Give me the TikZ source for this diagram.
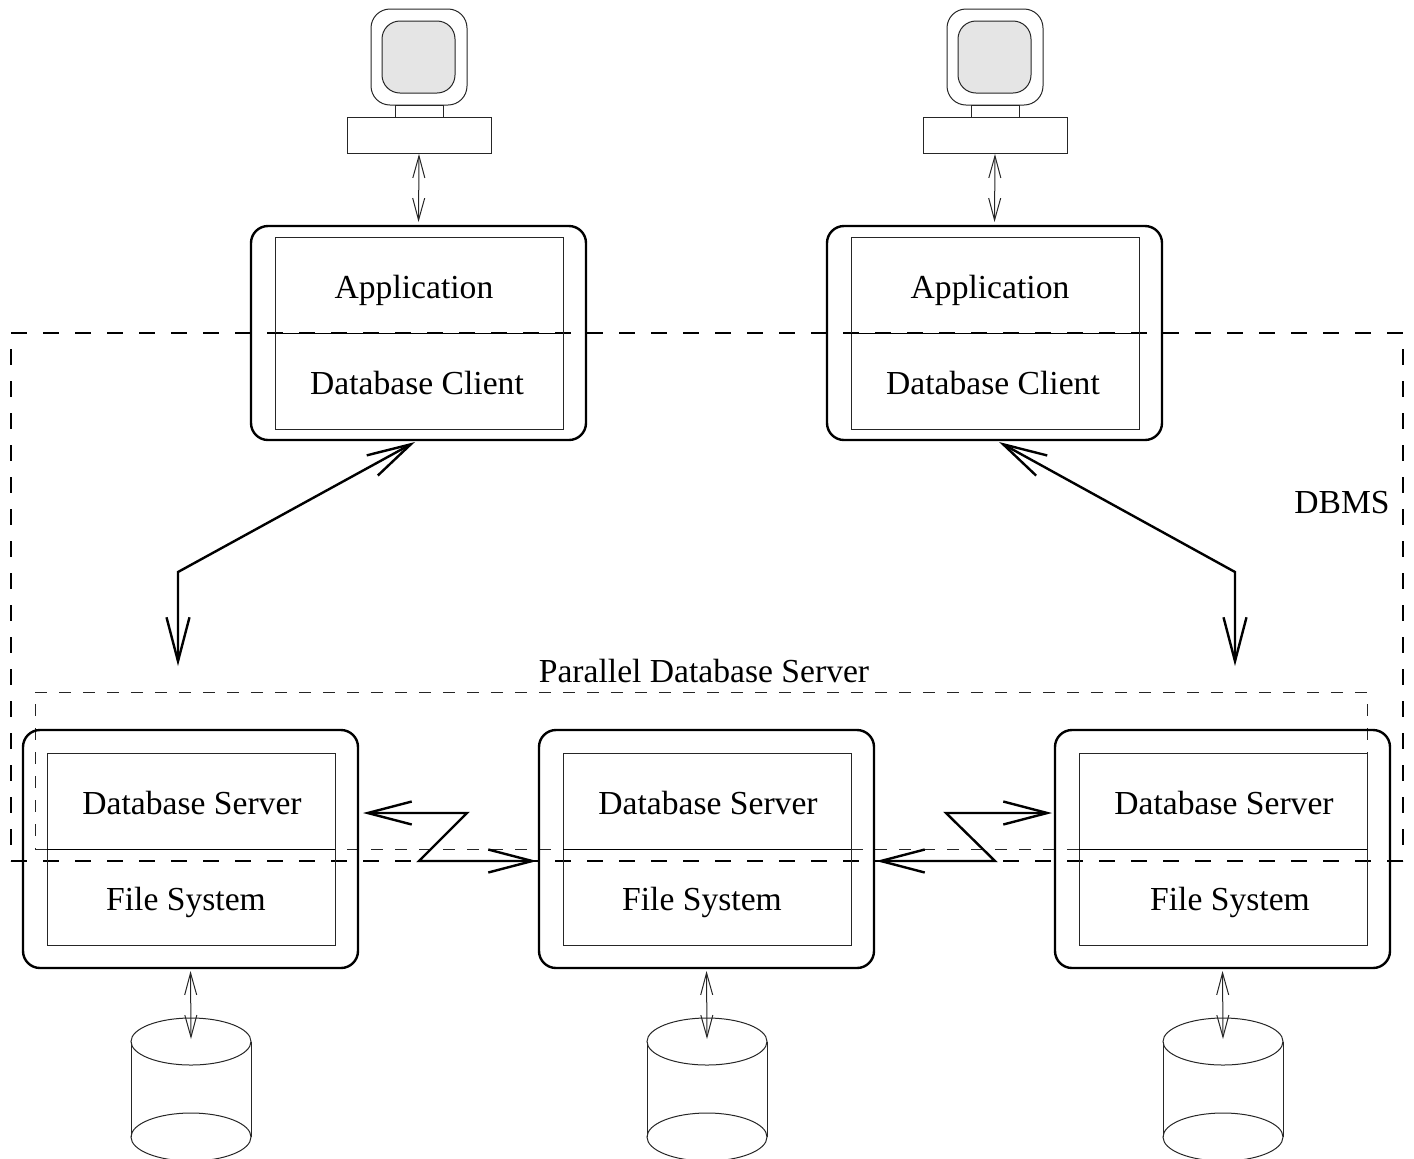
\documentclass[tikz,border=0pt]{standalone}
\usepackage{fontspec}
\setmainfont{Liberation Serif}
\usetikzlibrary{arrows.meta}
\tikzset{
  thinln/.style={line width=0.5pt,black!85},
  thickln/.style={line width=1.2pt,black},
  outerbox/.style={draw,thickln,rounded corners=8.5pt,inner sep=0pt,outer sep=0pt},
  clientouter/.style={outerbox,minimum width=167.5pt,minimum height=107pt},
  serverouter/.style={outerbox,minimum width=167.5pt,minimum height=119pt},
  innerbox/.style={draw,thinln,inner sep=0pt,outer sep=0pt,minimum width=144pt,minimum height=96pt},
  screenouter/.style={draw,thinln,rounded corners=9.5pt,inner sep=0pt,outer sep=0pt,minimum width=48pt,minimum height=48pt},
  screeninner/.style={draw,thinln,fill=black!10,rounded corners=9pt,inner sep=0pt,outer sep=0pt,minimum width=36.5pt,minimum height=36pt},
  neck/.style={draw,thinln,inner sep=0pt,outer sep=0pt,minimum width=24pt,minimum height=6pt},
  basebox/.style={draw,thinln,inner sep=0pt,outer sep=0pt,minimum width=72pt,minimum height=18pt},
  label/.style={font=\fontsize{16.8pt}{20pt}\selectfont,inner sep=0pt,text=black},
  bigarrow/.style={thickln,{Straight Barb[length=22pt,width=11.5pt]}-{Straight Barb[length=22pt,width=11.5pt]}},
  smallarrow/.style={thinln,{Straight Barb[length=11pt,width=6pt]}-{Straight Barb[length=11pt,width=6pt]}},
  dbmsh/.style={draw,line width=1.2pt,dash pattern=on 8pt off 8pt},
  dbmsv/.style={dbmsh,dash phase=8pt},
  parallelh/.style={draw,line width=0.5pt,black!85,dash pattern=on 6pt off 6pt},
  parallelv/.style={parallelh,dash phase=6pt},
  disk/.style={thinln},
}
\begin{document}
\begin{tikzpicture}[x=0.5pt,y=-0.5pt]
\useasboundingbox (0,0) rectangle (1414,1158);
\clip (0,0) rectangle (1414,1158);

% dashed regions
\coordinate (dtl) at (11,333);
\coordinate (dtr) at (1403,333);
\coordinate (dbl) at (11,861);
\coordinate (dbr) at (1403,861);
\draw[dbmsh] (dtl) -- (dtr);
\draw[dbmsh] (dbl) -- (dbr);
\draw[dbmsv] (dtl) -- (dbl);
\draw[dbmsv] (dtr) -- (dbr);
\coordinate (ptl) at (35,692);
\coordinate (ptr) at (1367,692);
\coordinate (pbl) at (35,849);
\coordinate (pbr) at (1367,849);
\draw[parallelh] (ptl) -- (ptr);
\draw[parallelh] (pbl) -- (pbr);
\draw[parallelv] (ptl) -- (pbl);
\draw[parallelv] (ptr) -- (pbr);

% terminals and clients
\foreach \n/\dx in {a/0,b/576}{
  \node[screenouter] (scr\n) at (419+\dx,57) {};
  \node[screeninner] (inn\n) at (418.5+\dx,57) {};
  \node[neck] (neck\n) at (419+\dx,111) {};
  \node[basebox] (base\n) at (419+\dx,135) {};
  \node[clientouter] (cout\n) at (418.5+\dx,333) {};
  \node[innerbox] (cin\n) at (419+\dx,333) {};
  \draw[thinln,black] (cin\n.west) -- (cin\n.east);
  \node[label] (app\n) at (414+\dx,290) {Application};
  \node[label] (dbc\n) at (417+\dx,383) {Database Client};
  \draw[smallarrow,shorten <=0.5pt,shorten >=2pt] (base\n.south) -- (cout\n.north);
}

% servers and disks
\foreach \n/\dx/\fsx in {a/0/186,b/516/702,c/1032/1230}{
  \node[serverouter] (sout\n) at (190.5+\dx,849) {};
  \node[innerbox] (sin\n) at (191+\dx,849) {};
  \draw[thinln,black] (sin\n.west) -- (sin\n.east);
  \node[label] (dbs\n) at (192+\dx,803) {Database Server};
  \node[label] (fs\n) at (\fsx,902) {File System};
  \draw[disk] (131+\dx,1041.5) -- (131+\dx,1137) (251+\dx,1041.5) -- (251+\dx,1137);
  \draw[disk] (191+\dx,1041.5) ellipse [x radius=60,y radius=-23.5];
  \draw[disk] (191+\dx,1137) ellipse [x radius=60,y radius=-24];
  \coordinate (dtop\n) at (191+\dx,1039);
  \draw[smallarrow,shorten <=1.5pt] (sout\n.south) -- (dtop\n);
}

\node[label] (pds) at (704,670.5) {Parallel Database Server};
\node[label] (dbmslabel) at (1342,503) {DBMS};

% main connectors
\coordinate (ca) at (415,442);
\coordinate (ba) at (178,572);
\coordinate (ta) at (178,666);
\draw[bigarrow] (ca) -- (ba) -- (ta);
\coordinate (cb) at (999,442);
\coordinate (bb) at (1235,572);
\coordinate (tb) at (1235,666);
\draw[bigarrow] (cb) -- (bb) -- (tb);
\coordinate (za1) at (363,813);
\coordinate (za2) at (467,813);
\coordinate (za3) at (419,861);
\coordinate (za4) at (537,861);
\draw[bigarrow] (za1) -- (za2) -- (za3) -- (za4);
\coordinate (zb1) at (1052,813);
\coordinate (zb2) at (946,813);
\coordinate (zb3) at (995,861);
\coordinate (zb4) at (876,861);
\draw[bigarrow] (zb1) -- (zb2) -- (zb3) -- (zb4);
\end{tikzpicture}
\end{document}
